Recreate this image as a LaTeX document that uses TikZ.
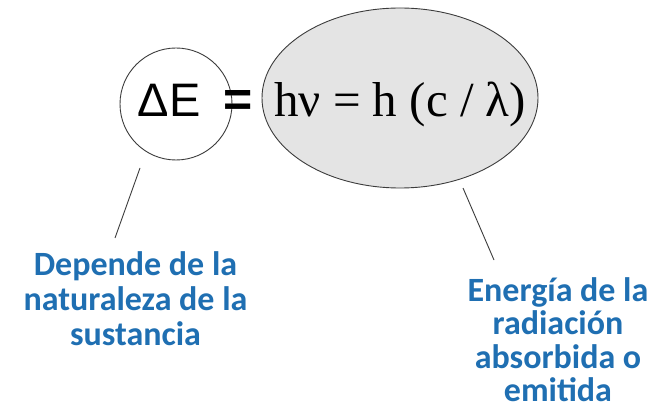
\documentclass[tikz,border=0pt]{standalone}
\usepackage{fontspec}
\setmainfont{Liberation Serif}
\newfontfamily\arialf{Liberation Sans}
\newfontfamily\calib{Carlito}
\usetikzlibrary{shapes.geometric}
\definecolor{lblue}{RGB}{31,111,178}
\definecolor{edgegray}{RGB}{60,60,60}
\definecolor{ellfill}{RGB}{228,228,228}
\tikzset{
  conn/.style={draw=edgegray, line width=0.9pt},
  bluetext/.style={text=lblue, align=center, inner sep=0pt, anchor=north,
    font=\calib\bfseries\fontsize{34}{35}\selectfont},
}
\begin{document}
\begin{tikzpicture}[x=1pt,y=-1pt]
\useasboundingbox[fill=white] (0,0) rectangle (666,411);
\node[circle, draw=edgegray, line width=0.9pt, minimum size=112pt, inner sep=0pt] (circ) at (176,104) {};
\node[ellipse, draw=edgegray, line width=0.9pt, fill=ellfill, minimum width=276pt, minimum height=180pt, inner sep=0pt] (ell) at (400,98) {};
\node[anchor=base, inner sep=0pt, font=\arialf\fontsize{47}{47}\selectfont] (de) at (169,117) {ΔE};
\node[anchor=base, inner sep=0pt, font=\arialf\bfseries\fontsize{50}{50}\selectfont] (eq) at (238,117) {=};
\node[anchor=base west, inner sep=0pt, font=\fontsize{49}{49}\selectfont] (hv) at (274,117) {hν = h (c / λ)};
\coordinate (la) at (140,168);
\coordinate (lb) at (115,238);
\coordinate (ra) at (463,188);
\coordinate (rb) at (494,260);
\draw[conn] (la) -- (lb);
\draw[conn] (ra) -- (rb);
\node[bluetext] (t1) at (135.5,251) {Depende de la\\naturaleza de la\\sustancia};
\node[bluetext, font=\calib\bfseries\fontsize{34}{33.5}\selectfont] (t2) at (558,277) {Energía de la\\radiación\\absorbida o\\emitida};
\end{tikzpicture}
\end{document}
